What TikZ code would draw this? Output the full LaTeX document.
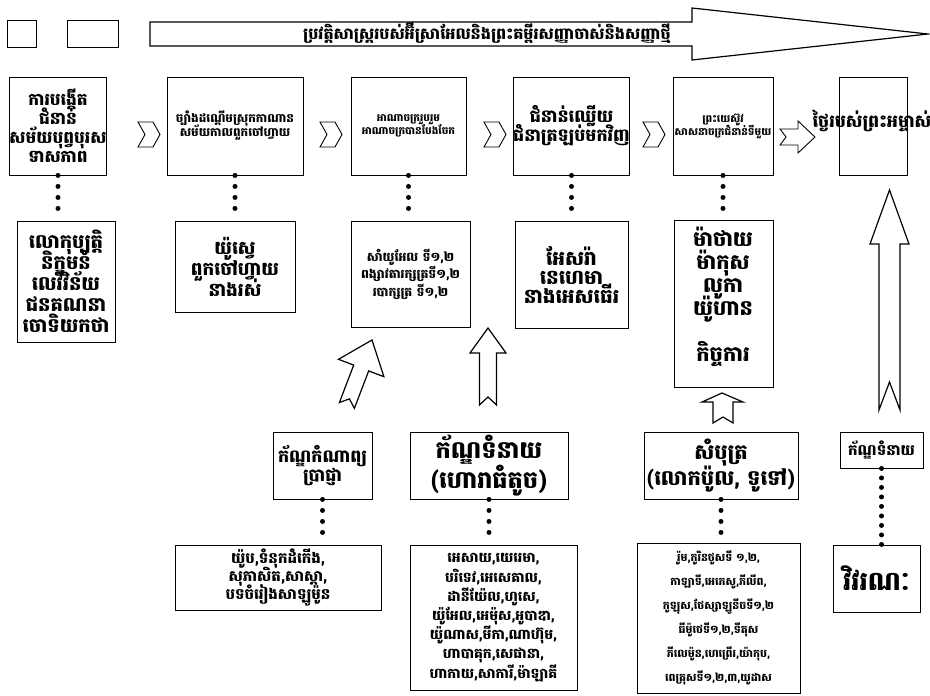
\documentclass[tikz,border=0pt]{standalone}
\usepackage{fontspec}
\newfontfamily\kh[Script=Khmer]{Battambang}
\newcommand\khfnt[2]{\kh\bfseries\fontsize{#1}{#2}\selectfont\lineskiplimit -30pt\relax}
\begin{document}
\begin{tikzpicture}[x=1pt,y=-1pt,
  bx/.style={draw, line width=0.9pt, inner sep=0pt, align=center},
  lbl/.style={inner sep=0pt, align=center},
  kf/.style 2 args={font={\khfnt{#1}{#2}}},
  dotc/.style={line width=5pt, line cap=round, dash pattern=on 0pt off 11pt},
  dotd/.style={line width=5pt, line cap=round, dash pattern=on 0pt off 9.5pt},
  hol/.style={draw, line width=1.2pt, fill=white, line join=miter}]
\useasboundingbox (0,0) rectangle (930,696);
% top strip
\node[bx, minimum width=29pt, minimum height=27pt] (sq1) at (21.5,33.5) {};
\node[bx, minimum width=51pt, minimum height=27pt] (sq2) at (92.5,33.5) {};
\draw[hol] (150,22) -- (692,22) -- (692,8) -- (928,34) -- (692,60) -- (692,46) -- (150,46) -- cycle;
\node[lbl, kf={16}{17}] (title) at (487,33) {ប្រវត្តិសាស្ត្ររបស់អ៊ីស្រាអែលនិងព្រះគម្ពីរសញ្ញាចាស់និងសញ្ញាថ្មី};
% top row
\node[bx, kf={17}{19}, minimum width=97pt, minimum height=98pt] (t1) at (58,126) {ការបង្កើត\\ជំនាន់\\សម័យបុព្វបុរស\\ទាសភាព};
\node[bx, kf={12}{14}, minimum width=136pt, minimum height=98pt] (t2) at (235,126) {ច្បាំងដណ្តើមស្រុកកាណាន\\សម័យកាលពួកចៅហ្វាយ};
\node[bx, kf={10.5}{13}, minimum width=115pt, minimum height=98pt] (t3) at (408.5,126) {អាណាចក្ររួបរួម\\អាណាចក្របានបែងចែក};
\node[bx, kf={17.5}{19}, minimum width=111pt, minimum height=98pt] (t4) at (571.5,126) {ជំនាន់ឈ្លើយ\\ជំនាត្រឡប់មកវិញ};
\node[bx, kf={10.5}{13}, minimum width=100pt, minimum height=98pt] (t5) at (723,126) {ព្រះយេស៊ូវ\\សាសនាចក្រជំនាន់ទីមួយ};
\node[bx, minimum width=68pt, minimum height=98pt] (t6) at (873,126) {};
\node[lbl, kf={17.5}{19}] (t6text) at (872,121) {ថ្ងៃរបស់ព្រះអម្ចាស់};
% chevrons
\draw[hol, line width=0.9pt] (138,122) -- (153,122) -- (160,134.5) -- (153,147) -- (138,147) -- (145,134.5) -- cycle;
\draw[hol, line width=0.9pt] (320,122) -- (335,122) -- (342,134.5) -- (335,147) -- (320,147) -- (327,134.5) -- cycle;
\draw[hol, line width=0.9pt] (484,122) -- (499,122) -- (506,134.5) -- (499,147) -- (484,147) -- (491,134.5) -- cycle;
\draw[hol, line width=0.9pt] (643,122) -- (658,122) -- (665,134.5) -- (658,147) -- (643,147) -- (650,134.5) -- cycle;
\draw[hol, line width=0.9pt] (780,129) -- (798,129) -- (798,121) -- (815,137) -- (798,153) -- (798,145) -- (780,145) -- (786,137) -- cycle;
% lower row
\node[bx, kf={19.5}{21}, minimum width=98pt, minimum height=121pt] (l1) at (66,281.5) {លោកុប្បត្តិ\\និក្ខមនំ\\លេវីវិន័យ\\ជនគណនា\\ចោទិយកថា};
\node[bx, kf={18.5}{21}, minimum width=120pt, minimum height=91pt] (l2) at (235,266.5) {យ៉ូស្វេ\\ពួកចៅហ្វាយ\\នាងរស់};
\node[bx, kf={12.5}{17.5}, minimum width=119pt, minimum height=106pt] (l3) at (410.5,274) {សាំយូអែល ទី១,២\\ពង្សាវតារក្សត្រទី១,២\\របាក្សត្រ ទី១,២};
\node[bx, kf={20}{19}, minimum width=113pt, minimum height=107pt] (l4) at (571.5,274.5) {អែសរ៉ា\\នេហេមា\\នាងអេសធើរ};
\node[bx, minimum width=99pt, minimum height=167pt] (l5) at (723.5,303.5) {};
\node[lbl, kf={21}{23}] (l5text) at (723,297) {ម៉ាថាយ\\ម៉ាកុស\\លូកា\\យ៉ូហាន\\[23pt]កិច្ចការ};
% dotted links top -> lower
\foreach \i in {1,...,5} \draw[dotc, shorten >=8pt] (t\i.south) -- (t\i.south |- l\i.north);
% bottom category boxes
\node[bx, kf={17.5}{19}, minimum width=99pt, minimum height=67pt] (b1) at (322.5,465.5) {ក័ណ្ឌកំណាព្យ\\ប្រាជ្ញា};
\node[bx, kf={24}{30}, minimum width=158pt, minimum height=67pt] (b2) at (489,465.5) {ក័ណ្ឌទំនាយ\\(ហោរាធំតូច)};
\node[bx, kf={21}{26}, minimum width=154pt, minimum height=67pt] (b3) at (721,465.5) {សំបុត្រ\\(លោកប៉ូល, ទូទៅ)};
\node[bx, kf={15}{16}, minimum width=83pt, minimum height=36pt] (b4) at (881.5,450) {ក័ណ្ឌទំនាយ};
% book lists
\node[bx, kf={15}{18}, minimum width=206pt, minimum height=65pt] (d1) at (278,577.5) {យ៉ូប,ទំនុកដំកើង,\\សុភាសិត,សាស្តា,\\បទចំរៀងសាឡូម៉ូន};
\node[bx, kf={14}{19.2}, minimum width=167pt, minimum height=145pt] (d2) at (493.5,617.5) {អេសាយ,យេរេមា,\\បរិទេវ,អេសេគាល,\\ដានីយ៉ែល,ហូសេ,\\យ៉ូអែល,អេម៉ុស,អូបាឌា,\\យ៉ូណាស,មីកា,ណាហ៊ុម,\\ហាបាគុក,សេផានា,\\ហាកាយ,សាការី,ម៉ាឡាគី};
\node[bx, kf={11}{24}, minimum width=163pt, minimum height=150pt] (d3) at (718.5,618) {រ៉ូម,កូរិនថូសទី ១,២,\\កាឡាទី,អេភេសូ,ភីលីព,\\កូឡុស,ថែស្សាឡូនីចទី១,២\\ធីម៉ូថេទី១,២,ទីតុស\\ភីលេម៉ូន,ហេព្រើរ,យ៉ាកុប,\\ពេត្រុសទី១,២,៣,យូដាស};
\node[bx, kf={26}{30}, minimum width=87pt, minimum height=67pt] (d4) at (876.5,578.5) {វិវរណៈ};
\foreach \i in {1,2,3} \draw[dotc, shorten >=8pt] (b\i.south) -- (b\i.south |- d\i.north);
\draw[dotd] (b4.south) -- (b4.south |- d4.north);
% hollow arrows
\draw[hol] (372,340) -- (383.9,376.7) -- (368.7,370.9) -- (354.4,408.3) -- (349.4,398.9) -- (339.4,402.5) -- (353.7,365.1) -- (338.5,359.3) -- cycle;
\draw[hol] (488,328) -- (506,353) -- (496.5,353) -- (496.5,405) -- (488,397) -- (479.5,405) -- (479.5,353) -- (470,353) -- cycle;
\draw[hol] (722,393) -- (743,402) -- (733,402) -- (733,423) -- (723,417) -- (713,423) -- (713,402) -- (702,402) -- cycle;
\draw[hol] (889.5,190) -- (909,244) -- (900,244) -- (900,410) -- (889.5,382) -- (879,410) -- (879,244) -- (870,244) -- cycle;
\end{tikzpicture}
\end{document}
